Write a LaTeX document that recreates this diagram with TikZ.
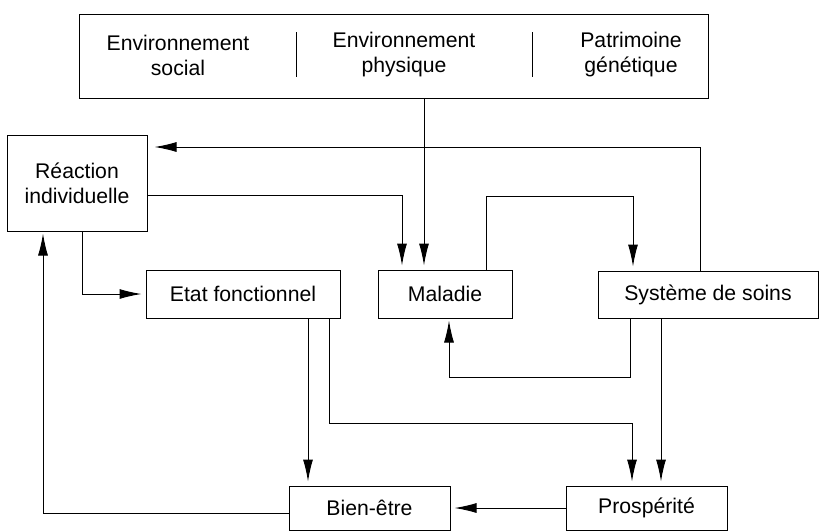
\documentclass[tikz,border=0pt]{standalone}
\usepackage{fontspec}
\setmainfont{Liberation Sans}
\usetikzlibrary{arrows.meta}
\usetikzlibrary{calc}

\tikzset{
  boite/.style={draw, line width=0.5pt, inner sep=0pt, align=center, font=\fontsize{10.6}{12.5}\selectfont},
  texte/.style={inner sep=0pt, align=center, font=\fontsize{10.6}{12.5}\selectfont},
  fleche/.style={line width=0.5pt, -{Latex[length=11pt,width=5pt]}, shorten >=2pt},
}

\begin{document}
\begin{tikzpicture}[x=0.5pt,y=-0.5pt]
    \useasboundingbox (0,0) rectangle (819,531);
    % facteurs en haut
    \node [boite, minimum width=314.5pt, minimum height=42pt] (facteurs) at (393.5,56) {};
    \node [texte] (social) at (178,55) {Environnement\\social};
    \node [texte] (physique) at (404,55) {Environnement\\physique};
    \node [texte] (genetique) at (631,55) {Patrimoine\\génétique};
    \draw [line width=0.5pt] (296,32) -- (296,77);
    \draw [line width=0.5pt] (532,32) -- (532,77);
    % les boites
    \node [boite, minimum width=70pt, minimum height=48pt] (reaction) at (77,183) {Réaction\\individuelle};
    \node [boite, minimum width=97pt, minimum height=24pt] (etat) at (243,294) {Etat fonctionnel};
    \node [boite, minimum width=67pt, minimum height=24pt] (maladie) at (445,294) {Maladie};
    \node [boite, minimum width=110pt, minimum height=23.5pt] (soins) at (708,294.5) {Système de soins};
    \node [boite, minimum width=80.5pt, minimum height=22pt] (bienetre) at (369.5,508) {Bien-être};
    \node [boite, minimum width=80.5pt, minimum height=22pt] (prosperite) at (646.5,508) {Prospérité};
    % fleches
    \coordinate (f1) at ($(facteurs.south)+(30.5,0)$);
    \draw [fleche] (f1) -- (f1 |- maladie.north);
    \draw [fleche] ($(reaction.east)+(0,12)$) -| ($(maladie.north)+(-43,0)$);
    \draw [fleche] ($(maladie.north)+(41,0)$) -- ++(0,-73) -| ($(soins.north)+(-75,0)$);
    \draw [fleche, shorten >=3.5pt] ($(soins.north)+(-8,0)$) |- ($(reaction.east)+(0,-36)$);
    \draw [fleche] ($(reaction.south)+(5,0)$) |- (etat.west);
    \coordinate (f6) at ($(etat.south)+(65,0)$);
    \draw [fleche] (f6) -- (f6 |- bienetre.north);
    \draw [fleche] ($(etat.south)+(86,0)$) -- ++(0,105) -| ($(prosperite.north)+(-14.5,0)$);
    \draw [fleche, shorten >=1pt] ($(soins.south)+(-78,0)$) -- ++(0,59) -| ($(maladie.south)+(4,0)$);
    \coordinate (f9) at ($(soins.south)+(-47,0)$);
    \draw [fleche] (f9) -- (f9 |- prosperite.north);
    \draw [fleche] (prosperite.west) -- (bienetre.east);
    \draw [fleche, shorten >=1pt] ($(bienetre.west)+(0,5)$) -| ($(reaction.south)+(-34,0)$);
\end{tikzpicture}
\end{document}
